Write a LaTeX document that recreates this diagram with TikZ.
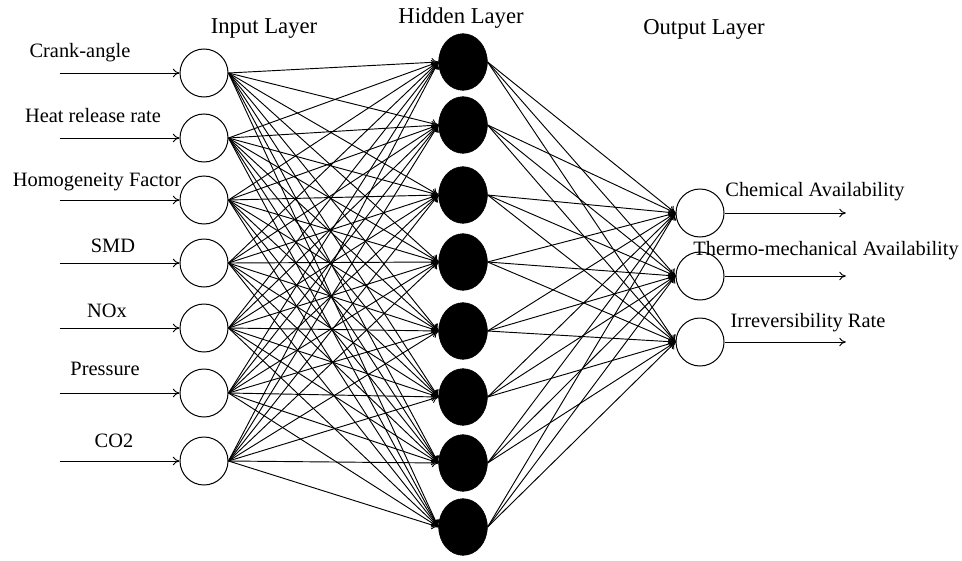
\documentclass[tikz,border=0pt]{standalone}
\usepackage{fontspec}
\setmainfont{Liberation Serif}
\usetikzlibrary{shapes.geometric,arrows.meta}
\begin{document}
\begin{tikzpicture}[x=0.75pt,y=-0.75pt,
  inneuron/.style={circle,draw,line width=0.75pt,minimum size=36pt,inner sep=0pt},
  hidneuron/.style={ellipse,fill=black,draw=black,minimum width=36.5pt,minimum height=42.5pt,inner sep=0pt},
  link/.style={line width=0.7pt,-{To[length=5pt,width=6.5pt]}},
  lbl/.style={font=\fontsize{15.3}{17}\selectfont,inner sep=0pt},
  ttl/.style={font=\fontsize{17}{19}\selectfont,inner sep=0pt}]
\useasboundingbox (0,0) rectangle (962,560);

% layer titles
\node[ttl] (tin)  at (264,29) {Input Layer};
\node[ttl] (thid) at (461,18) {Hidden Layer};
\node[ttl] (tout) at (704,29) {Output Layer};

% input layer
\foreach \n/\y in {1/73,2/138,3/200,4/263,5/328,6/393,7/461}
  \node[inneuron] (i\n) at (204,\y) {};

% hidden layer
\foreach \n/\y in {1/62,2/125,3/195,4/262,5/331,6/397,7/463,8/527}
  \node[hidneuron] (h\n) at (463,\y) {};

% output layer
\foreach \n/\y in {1/213,2/276,3/342}
  \node[inneuron] (o\n) at (700,\y) {};

% input signals
\foreach \n in {1,...,7}
  \coordinate (s\n) at ([xshift=-90pt]i\n.west);
\foreach \n in {1,...,7}
  \draw[link] (s\n) -- (i\n.west);

\node[lbl] (l1) at (80,53)  {Crank-angle};
\node[lbl] (l2) at (93,116) {Heat release rate};
\node[lbl] (l3) at (97,182) {Homogeneity Factor};
\node[lbl] (l4) at (113,246) {SMD};
\node[lbl] (l5) at (107,311) {NOx};
\node[lbl] (l6) at (105,369) {Pressure};
\node[lbl] (l7) at (114,441) {CO2};

% input -> hidden
\foreach \a in {1,...,7}
  \foreach \b in {1,...,8}
    \draw[link] (i\a.east) -- (h\b.west);

% hidden -> output
\foreach \a in {1,...,8}
  \foreach \b in {1,...,3}
    \draw[link] (h\a.east) -- (o\b.west);

% output signals
\foreach \n in {1,...,3}
  \coordinate (e\n) at ([xshift=91pt]o\n.east);
\foreach \n in {1,...,3}
  \draw[link] (o\n.east) -- (e\n);

\node[lbl] (m1) at (815,192) {Chemical Availability};
\node[lbl] (m2) at (826,251) {Thermo-mechanical Availability};
\node[lbl] (m3) at (808,323) {Irreversibility Rate};
\end{tikzpicture}
\end{document}
